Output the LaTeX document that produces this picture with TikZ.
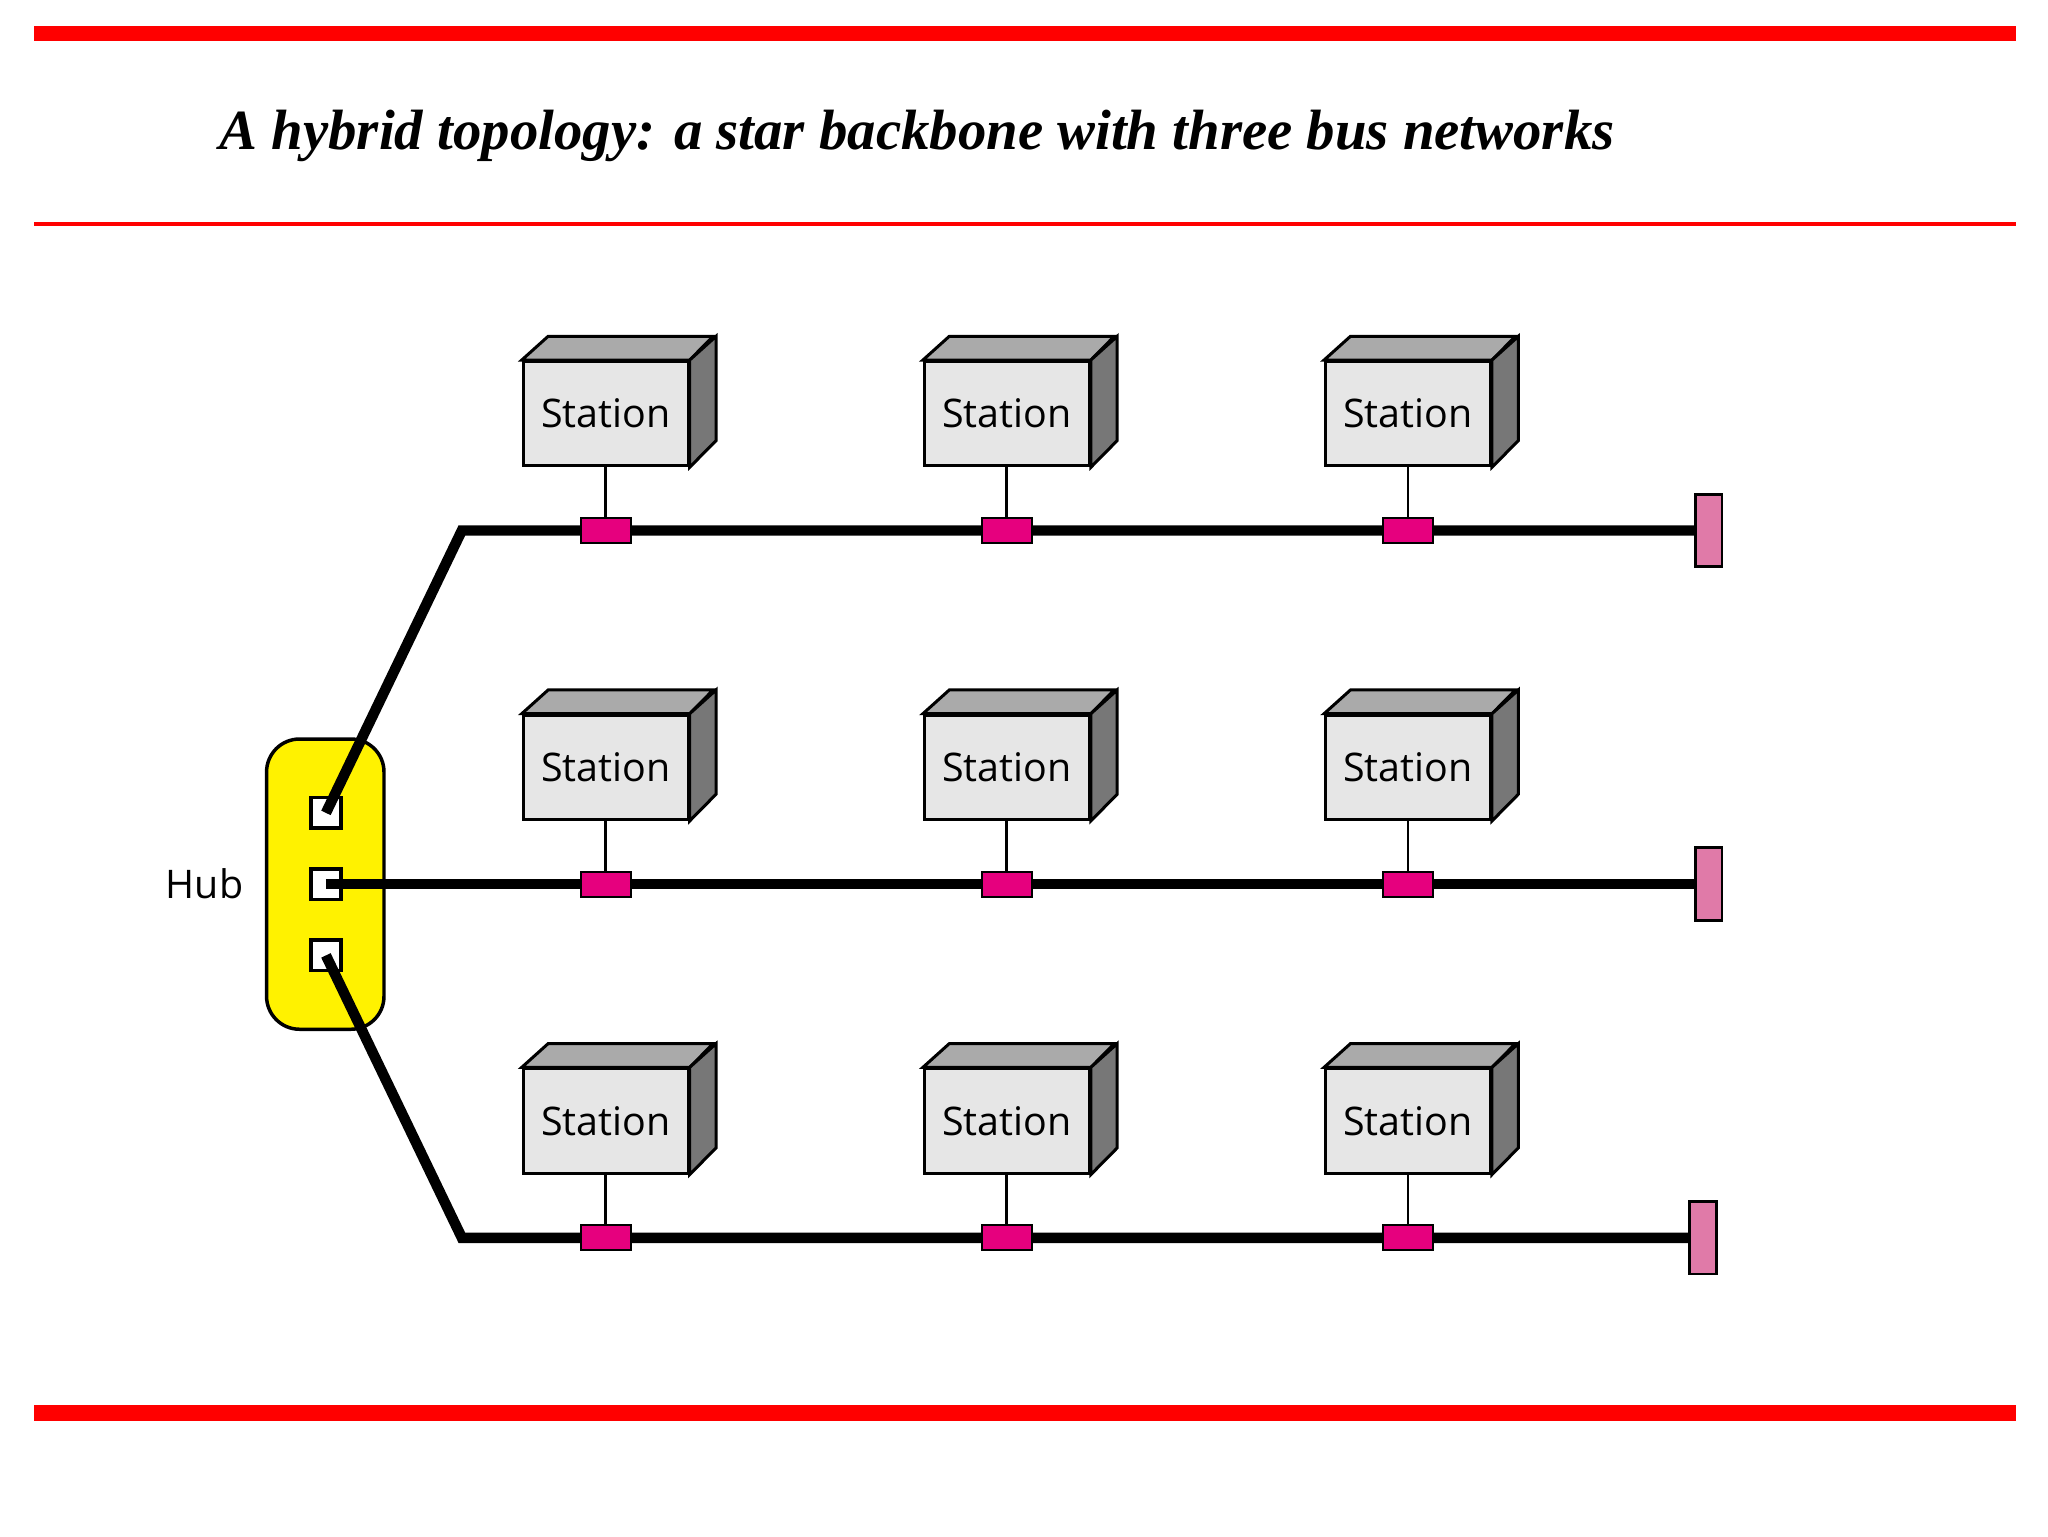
\documentclass[tikz,border=0pt]{standalone}
\usepackage{fontspec}
\setmainfont{Liberation Serif}
\newfontfamily\stafont{Open Sans}
\usetikzlibrary{positioning}
\definecolor{tapcol}{HTML}{E6007E}
\definecolor{endcol}{HTML}{E07AA8}
\definecolor{frontcol}{HTML}{E6E6E6}
\definecolor{topcol}{HTML}{AAAAAA}
\definecolor{sidecol}{HTML}{777777}
\begin{document}
\begin{tikzpicture}[x=0.02cm,y=-0.02cm,
  station/.style={draw,line width=1.3pt,fill=frontcol,minimum width=2.5cm,minimum height=1.58cm,inner sep=0pt,font=\stafont\fontsize{17}{20}\selectfont},
  tap/.style={draw,line width=0.8pt,fill=tapcol,minimum width=0.76cm,minimum height=0.38cm,inner sep=0pt},
  term/.style={draw,line width=1.2pt,fill=endcol,minimum width=0.4cm,minimum height=1.1cm,inner sep=0pt},
  port/.style={draw,line width=1.5pt,fill=white,minimum size=0.46cm,inner sep=0pt},
  bus/.style={line width=4.5pt}]
	\useasboundingbox (0,0) rectangle (1552,1164);
	% Frame
	\fill[red] (26,20) rectangle (1528,31);
	\fill[red] (26,168) rectangle (1528,171);
	\fill[red] (26,1065) rectangle (1528,1077);
	\node (title) at (695,103) {\fontsize{24.5}{28}\selectfont\bfseries\itshape A hybrid topology: a star backbone with three bus networks};

	% Hub
	\node[draw,line width=1.5pt,fill=yellow,rounded corners=0.5cm,minimum width=1.78cm,minimum height=4.4cm] (hub) at (246.5,670) {};
	\node[font=\stafont\fontsize{17}{20}\selectfont] (hublabel) at (155,670) {Hub};
	\foreach \r in {0,1,2}
		\node[port] (p\r) at (247,616+54*\r) {};

	% Terminators
	\node[term] (e0) at (1295,402) {};
	\node[term] (e1) at (1295,670) {};
	\node[term] (e2) at (1290.5,938) {};
	\coordinate (k0) at (350,402);
	\coordinate (k2) at (350,938);

	% Buses
	\draw[bus] (p0.center) -- (k0) -- (e0.west);
	\draw[bus] (p1.center) -- (e1.west);
	\draw[bus] (p2.center) -- (k2) -- (e2.west);

	% Stations
	\foreach \r in {0,1,2}
	\foreach \c in {0,1,2}{
		\node[station] (s\r\c) at (459+304*\c,313.5+268*\r) {Station};
		\draw[line width=1.3pt,fill=topcol] (s\r\c.north west) -- ++(20,-18) -- ++(125,0) -- (s\r\c.north east) -- cycle;
		\draw[line width=1.3pt,fill=sidecol] (s\r\c.north east) -- ++(20,-18) -- ++(0,79) -- (s\r\c.south east) -- cycle;
		\node[tap] (t\r\c) at (459+304*\c,402+268*\r) {};
		\draw[line width=1.2pt] (s\r\c.south) -- (t\r\c.north);
	}
\end{tikzpicture}
\end{document}
